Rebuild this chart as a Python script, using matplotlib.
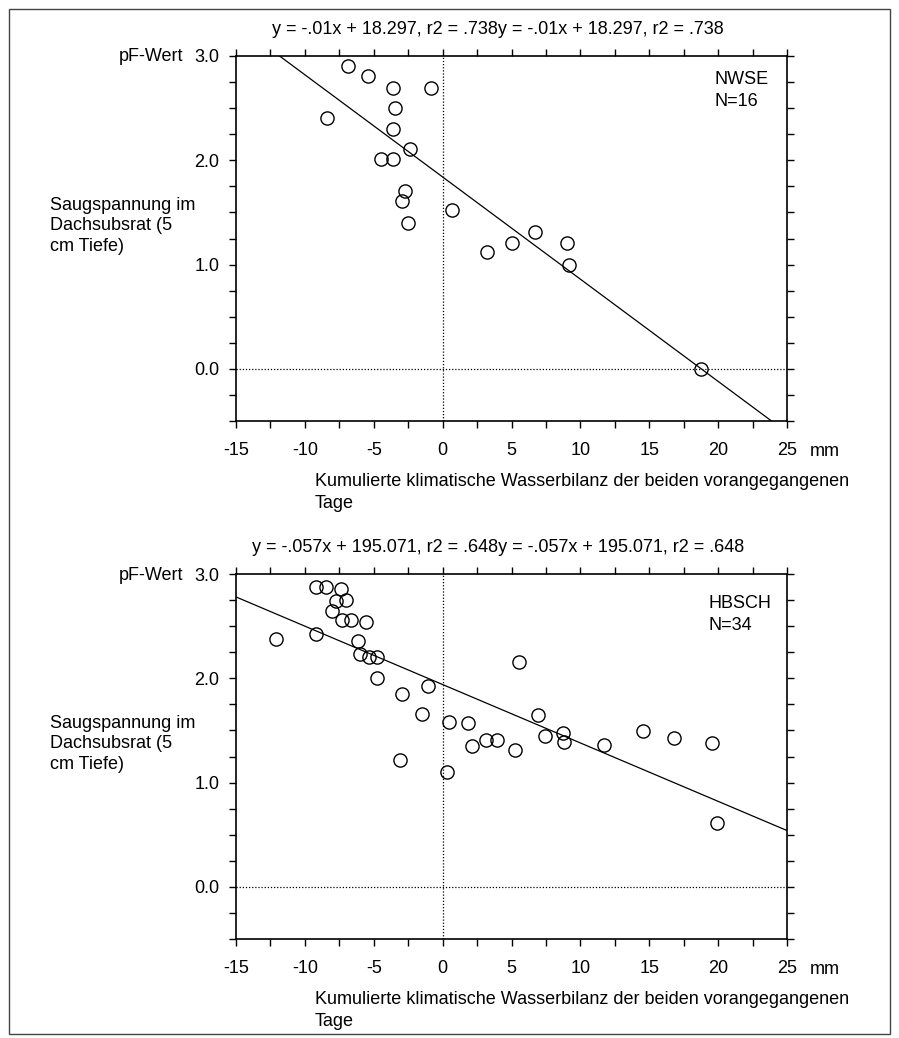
import numpy as np
import matplotlib
matplotlib.use("Agg")
import matplotlib.pyplot as plt
from matplotlib.patches import Rectangle
from matplotlib.ticker import MultipleLocator

plt.rcParams['font.family'] = ['Liberation Sans', 'DejaVu Sans']

# NWSE
nwse_x = [-6.85, -5.39, -3.61, -0.84, -3.49, -8.38, -3.61, -2.4, -4.47, -3.61,
          -2.71, -2.96, 0.69, -2.54, 3.25, 5.07, 6.7, 9.04, 9.2, 18.77]
nwse_y = [2.90, 2.81, 2.69, 2.69, 2.50, 2.41, 2.30, 2.11, 2.01, 2.01,
          1.71, 1.61, 1.52, 1.40, 1.12, 1.21, 1.31, 1.21, 1.00, 0.0]
nwse_fit = (-0.098, 1.84)  # Steigung, Achsenabschnitt

# HBSCH
hbsch_x = [-9.17, -8.44, -7.41, -7.72, -7.05, -8.01, -7.29, -6.63, -5.55, -12.06,
           -9.17, -6.15, -5.99, -5.36, -4.76, -4.8, -1.04, -2.95, -1.5, 0.43,
           1.87, 2.16, 3.13, 3.92, 5.25, 5.54, -3.07, 0.3, 6.93, 7.42,
           8.72, 8.84, 11.75, 14.52, 16.81, 19.59, 19.92]
hbsch_y = [2.88, 2.88, 2.86, 2.74, 2.75, 2.65, 2.56, 2.56, 2.54, 2.38,
           2.42, 2.36, 2.23, 2.20, 2.20, 2.00, 1.93, 1.85, 1.66, 1.58,
           1.57, 1.35, 1.41, 1.41, 1.31, 2.16, 1.22, 1.10, 1.65, 1.45,
           1.48, 1.39, 1.36, 1.49, 1.43, 1.38, 0.61]
hbsch_fit = (-0.056, 1.94)

titles = ["y = -.01x + 18.297, r2 = .738y = -.01x + 18.297, r2 = .738",
          "y = -.057x + 195.071, r2 = .648y = -.057x + 195.071, r2 = .648"]
names = [("NWSE", "N=16"), ("HBSCH", "N=34")]

W, H = 899, 1038
fs = 13
fig = plt.figure(figsize=(W / 100, H / 100), dpi=100)


def fx(x):
    return x / W


def fy(y):
    return 1 - y / H


# Rahmen
fig.add_artist(Rectangle((fx(9), fy(1034)), fx(890) - fx(9), fy(9) - fy(1034),
                         transform=fig.transFigure, fill=False, lw=1.0, color='#444444'))

panels = [(nwse_x, nwse_y, nwse_fit, 0, (23, 45), 715),
          (hbsch_x, hbsch_y, hbsch_fit, 518, (30, 51), 708)]

for i, (xs, ys, fit, off, name_dy, nx) in enumerate(panels):
    top = 56 + off
    bot = 421 + off
    ax = fig.add_axes([fx(236), fy(bot), fx(787) - fx(236), fy(top) - fy(bot)])
    ax.set_xlim(-15, 25)
    ax.set_ylim(-0.5, 3.0)

    ax.axhline(0, color='black', lw=0.9, ls=(0, (1, 1.5)))
    ax.axvline(0, color='black', lw=0.9, ls=(0, (1, 1.5)))

    xl = np.array([-15, 25])
    ax.plot(xl, fit[0] * xl + fit[1], color='black', lw=0.9)
    ax.plot(xs, ys, 'o', mfc='none', mec='black', ms=9.5, mew=1.0)

    ax.xaxis.set_minor_locator(MultipleLocator(2.5))
    ax.yaxis.set_minor_locator(MultipleLocator(0.25))
    ax.set_xticks([-15, -10, -5, 0, 5, 10, 15, 20, 25])
    ax.set_xticklabels(['-15', '-10', '-5', '0', '5', '10', '15', '20', '25'])
    ax.set_yticks([0, 1, 2, 3])
    ax.set_yticklabels(['0.0', '1.0', '2.0', '3.0'])
    ax.tick_params(which='both', direction='out', length=5, width=1.0,
                   top=True, right=True, labelsize=fs)
    ax.tick_params(axis='x', pad=10)
    ax.tick_params(axis='y', pad=7)
    for s in ax.spines.values():
        s.set_linewidth(1.2)

    fig.text(fx(nx), fy(top + name_dy[0]), names[i][0], fontsize=fs, va='center', ha='left')
    fig.text(fx(nx), fy(top + name_dy[1]), names[i][1], fontsize=fs, va='center', ha='left')

    fig.text(fx(498), fy(top - 27), titles[i], fontsize=fs, ha='center', va='center')
    fig.text(fx(183), fy(top + 1), 'pF-Wert', fontsize=fs, ha='right', va='center')
    fig.text(fx(50), fy(top + 170), 'Saugspannung im\nDachsubsrat (5\ncm Tiefe)',
             fontsize=fs, ha='left', va='center', linespacing=1.3)
    fig.text(fx(825), fy(bot + 31), 'mm', fontsize=fs, ha='center', va='center')
    fig.text(fx(315), fy(bot + 61), 'Kumulierte klimatische Wasserbilanz der beiden vorangegangenen',
             fontsize=fs, ha='left', va='center')
    fig.text(fx(315), fy(bot + 82), 'Tage', fontsize=fs, ha='left', va='center')

fig.savefig('out.png', dpi=100)
